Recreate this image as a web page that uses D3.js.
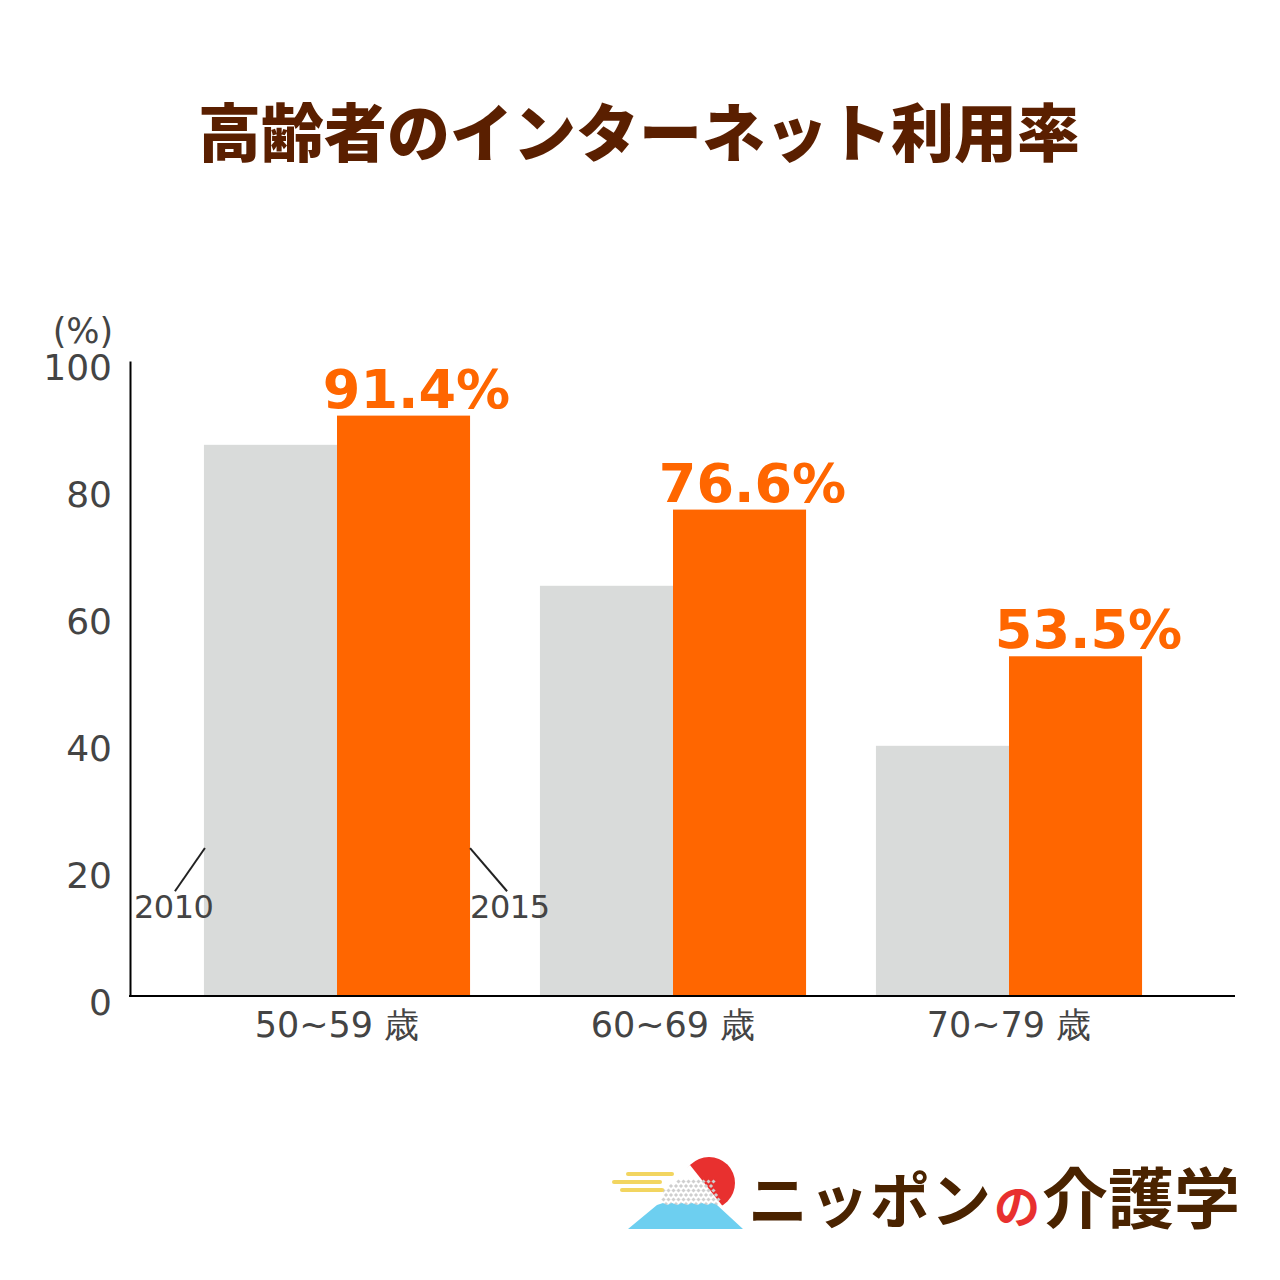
<!DOCTYPE html>
<html><head><meta charset="utf-8">
<script src="https://cdn.jsdelivr.net/npm/d3@7"></script>
<style>body{margin:0;background:#fff}</style>
</head><body>
<svg id="c" width="1280" height="1280"></svg>
<script>
const title = "高齢者のインターネット利用率";
const categories = ["50~59 歳", "60~69 歳", "70~79 歳"];
const seriesNames = ["2010", "2015"];
const values2010 = [86.8, 64.6, 39.4];
const values2015 = [91.4, 76.6, 53.5];
const yTicks = [0, 20, 40, 60, 80, 100];
const yUnit = "(%)";

const svg = d3.select("#c");
const ff = "'DejaVu Sans', Verdana, sans-serif";
const jp = "'Noto Sans CJK JP', sans-serif";

svg.append("rect").attr("width",1280).attr("height",1280).attr("fill","#fff");

svg.append("text").attr("x",639).attr("y",128).attr("text-anchor","middle")
  .attr("dominant-baseline","central").attr("font-family",jp).attr("font-weight",900)
  .attr("font-size",63).attr("fill","#5a1f00").text(title);

const y = d3.scaleLinear().domain([0,100]).range([996,361]);
const x0 = d3.scaleBand().domain(categories).range([169,1177]).paddingInner(0.208).paddingOuter(0.104);
const x1 = d3.scaleBand().domain(seriesNames).range([0,x0.bandwidth()]);
const colors = {"2010":"#d9dbda","2015":"#ff6600"};

const data = categories.map((c,i)=>({cat:c, vals:[{s:"2010",v:values2010[i]},{s:"2015",v:values2015[i]}]}));

const g = svg.append("g");
const grp = g.selectAll("g.grp").data(data).join("g").attr("transform",d=>`translate(${x0(d.cat)},0)`);
grp.selectAll("rect").data(d=>d.vals).join("rect")
  .attr("x",d=>x1(d.s)).attr("width",x1.bandwidth())
  .attr("y",d=>y(d.v)).attr("height",d=>y(0)-y(d.v)).attr("fill",d=>colors[d.s]);

grp.append("text")
  .attr("x",d=>x1("2015")+x1.bandwidth()/2+13).attr("y",d=>y(d.vals[1].v)-8)
  .attr("text-anchor","middle").attr("font-family",ff).attr("font-weight","bold")
  .attr("font-size",54).attr("fill","#ff6600").text(d=>d.vals[1].v.toFixed(1)+"%");

// y axis
const yAxis = svg.append("g").attr("transform","translate(130,0)")
  .call(d3.axisLeft(y).tickValues(yTicks).tickSize(0).tickPadding(18));
yAxis.select(".domain").attr("stroke","#000").attr("stroke-width",2);
yAxis.selectAll("text").attr("font-family",ff).attr("font-size",36).attr("fill","#444").attr("dy","0.52em");

// x axis
const xAxis = svg.append("g").attr("transform","translate(0,996)")
  .call(d3.axisBottom(x0).tickSize(0).tickPadding(12));
xAxis.select(".domain").remove();
svg.append("line").attr("x1",129).attr("x2",1235).attr("y1",996).attr("y2",996).attr("stroke","#000").attr("stroke-width",2);
xAxis.selectAll("text").attr("font-family",ff).attr("font-size",35).attr("fill","#444").attr("dy","0.82em");

svg.append("text").attr("x",83).attr("y",343).attr("text-anchor","middle")
  .attr("font-family",ff).attr("font-size",35).attr("fill","#444").text(yUnit);

// series annotations
const c0 = categories[0];
const gx = x0(c0);
const l2010x = gx + x1("2010");
const l2015x = gx + x1("2015") + x1.bandwidth();
svg.append("line").attr("x1",l2010x+1).attr("y1",y(23.3)).attr("x2",l2010x-29).attr("y2",y(16.5)).attr("stroke","#222").attr("stroke-width",2);
svg.append("line").attr("x1",l2015x).attr("y1",y(23.3)).attr("x2",l2015x+37).attr("y2",y(16.5)).attr("stroke","#222").attr("stroke-width",2);
svg.append("text").attr("x",l2010x-30).attr("y",918).attr("text-anchor","middle")
  .attr("font-family",ff).attr("font-size",32).attr("fill","#444").attr("textLength",80).text(seriesNames[0]);
svg.append("text").attr("x",l2015x+40).attr("y",918).attr("text-anchor","middle")
  .attr("font-family",ff).attr("font-size",32).attr("fill","#444").attr("textLength",80).text(seriesNames[1]);

// logo
const logo = svg.append("g");
logo.append("circle").attr("cx",709).attr("cy",1183).attr("r",26).attr("fill","#e8302f");
logo.append("path").attr("d","M690,1165 L740,1228 L628,1228 L668,1185 Z").attr("fill","#fff");
for(let r=0;r<6;r++){for(let k=0;k<12;k++){
  const cx=662+k*5+(r%2)*2.5, cy=1180+r*4.5;
  if (cx < 720 - (1205-cy)*0.3 && cx > 690-(cy-1165)*1.2)
  logo.append("rect").attr("x",cx).attr("y",cy).attr("width",3).attr("height",3).attr("fill","#cfcfcf").attr("transform",`rotate(45,${cx+1.5},${cy+1.5})`);
}}
logo.append("path").attr("d","M657,1205 L663,1203 L667,1205 L672,1203 L677,1205 L682,1203 L687,1205 L692,1203 L697,1205 L702,1203 L707,1205 L712,1203 L717,1205 L743,1229 L628,1229 Z").attr("fill","#6dcff0");
logo.append("rect").attr("x",626).attr("y",1172).attr("width",48).attr("height",4).attr("rx",2).attr("fill","#f2d560");
logo.append("rect").attr("x",612).attr("y",1180).attr("width",50).attr("height",4).attr("rx",2).attr("fill","#f2d560");
logo.append("rect").attr("x",620).attr("y",1188).attr("width",44).attr("height",4).attr("rx",2).attr("fill","#f2d560");
const lt = logo.append("text").attr("x",748).attr("y",1223).attr("font-family","'Noto Sans CJK JP', sans-serif").attr("font-weight",700).attr("fill","#4a2300");
lt.append("tspan").attr("font-size",60).attr("letter-spacing",1).text("ニッポン");
lt.append("tspan").attr("font-size",46).attr("fill","#e8302f").attr("dx",2).text("の");
lt.append("tspan").attr("font-size",66).attr("dx",2).text("介護学");
</script>
</body></html>
